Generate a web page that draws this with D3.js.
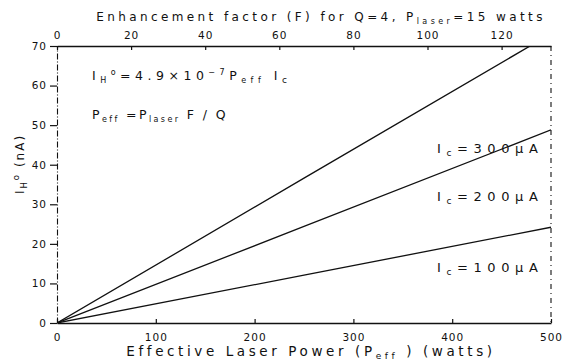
<!DOCTYPE html>
<html>
<head>
<meta charset="utf-8">
<script src="https://cdn.jsdelivr.net/npm/d3@7"></script>
<style>
  body { margin: 0; background: #fff; }
  svg text { font-family: "DejaVu Sans", sans-serif; fill: #111; }
</style>
</head>
<body>
<div id="app"></div>
<script>
// values
const peff = [0, 250, 500];
const ic300 = [0, 36.6, 73.1];
const ic200 = [0, 24.4, 48.8];
const ic100 = [0, 12.1, 24.2];
const seriesLabels = ["300", "200", "100"];
const xTicks = [0, 100, 200, 300, 400, 500];
const yTicks = [0, 10, 20, 30, 40, 50, 60, 70];
const fTicks = [0, 20, 40, 60, 80, 100, 120];

const w = 585, h = 362;
const m = {left: 57, right: 34, top: 46, bottom: 39};

const svg = d3.select("#app").append("svg")
    .attr("width", w).attr("height", h);

const x = d3.scaleLinear().domain([0, 500]).range([m.left, w - m.right]);
const y = d3.scaleLinear().domain([0, 70]).range([h - m.bottom, m.top]);
// F = Peff * Q / Plaser = Peff * 4 / 15
const xF = d3.scaleLinear().domain([0, 500 * 4 / 15]).range([m.left, w - m.right]);

svg.append("defs").append("clipPath").attr("id", "clip")
    .append("rect")
    .attr("x", m.left).attr("y", m.top)
    .attr("width", w - m.left - m.right).attr("height", h - m.top - m.bottom);

// bottom axis
const gx = svg.append("g")
    .attr("transform", `translate(0,${h - m.bottom})`)
    .call(d3.axisBottom(x).tickValues(xTicks).tickSize(-4).tickPadding(11).tickSizeOuter(0));

// top axis
const gt = svg.append("g")
    .attr("transform", `translate(0,${m.top})`)
    .call(d3.axisTop(xF).tickValues(fTicks).tickSize(-4).tickPadding(7).tickSizeOuter(0));

// left axis
const gy = svg.append("g")
    .attr("transform", `translate(${m.left},0)`)
    .call(d3.axisLeft(y).tickValues(yTicks).tickSize(7).tickPadding(3).tickSizeOuter(0));

[gx, gt, gy].forEach(g => {
  g.selectAll("text").attr("font-size", 10.5).attr("font-family", "DejaVu Sans, sans-serif")
    .attr("letter-spacing", 1).attr("fill", "#111");
  g.selectAll("line").attr("stroke", "#111").attr("stroke-width", 1.2);
});
gx.select(".domain").attr("stroke", "#111").attr("stroke-width", 1.4);
gt.select(".domain").attr("stroke", "#111").attr("stroke-width", 1.4);
gy.select(".domain").attr("stroke", "#111").attr("stroke-width", 1.1)
    .attr("stroke-dasharray", "6,2,1,2");

// right border, dashed
svg.append("line")
    .attr("x1", x(500)).attr("x2", x(500))
    .attr("y1", y(70)).attr("y2", y(0))
    .attr("stroke", "#111").attr("stroke-width", 1.1)
    .attr("stroke-dasharray", "5,4,1,4");

// lines
const line = d3.line().x((d, i) => x(peff[i])).y(d => y(d));
const plot = svg.append("g").attr("clip-path", "url(#clip)");
[ic300, ic200, ic100].forEach(s => {
  plot.append("path").datum(s)
      .attr("d", line)
      .attr("fill", "none")
      .attr("stroke", "#111")
      .attr("stroke-width", 1.3);
});

// series labels
const labPos = [[437, 153], [437, 201], [437, 272]];
seriesLabels.forEach((v, i) => {
  const t = svg.append("text")
      .attr("x", labPos[i][0]).attr("y", labPos[i][1])
      .attr("font-size", 13).attr("letter-spacing", 5.6);
  t.append("tspan").text("I");
  t.append("tspan").attr("font-size", 9).attr("dy", 3).text("c");
  t.append("tspan").attr("dy", -3).text(`=${v}\u03bcA`);
});

// formula annotations
const f1 = svg.append("text").attr("x", 92).attr("y", 80)
    .attr("font-size", 12.5).attr("letter-spacing", 4.5);
f1.append("tspan").text("I");
f1.append("tspan").attr("font-size", 8).attr("dy", 3).text("H");
f1.append("tspan").attr("font-size", 8).attr("dy", -8).text("o");
f1.append("tspan").attr("dy", 5).text("=4.9\u00d710");
f1.append("tspan").attr("font-size", 8).attr("dy", -5).text("\u22127");
f1.append("tspan").attr("dy", 5).text("P");
f1.append("tspan").attr("font-size", 8).attr("dy", 3).text("eff");
f1.append("tspan").attr("dy", -3).text(" I");
f1.append("tspan").attr("font-size", 9).attr("dy", 3).text("c");

const f2 = svg.append("text").attr("x", 92).attr("y", 119)
    .attr("font-size", 12.5).attr("letter-spacing", 2.4);
f2.append("tspan").text("P");
f2.append("tspan").attr("font-size", 8).attr("dy", 3).text("eff");
f2.append("tspan").attr("dy", -3).text(" =P");
f2.append("tspan").attr("font-size", 8).attr("dy", 3).text("laser");
f2.append("tspan").attr("dy", -3).text(" F / Q");

// top title
const tt = svg.append("text").attr("x", 321).attr("y", 21)
    .attr("text-anchor", "middle")
    .attr("font-size", 12).attr("letter-spacing", 3.4);
tt.append("tspan").text("Enhancement factor (F) for Q=4, P");
tt.append("tspan").attr("font-size", 8).attr("dy", 3).text("laser");
tt.append("tspan").attr("dy", -3).text("=15 watts");

// x label
const xl = svg.append("text").attr("x", 311).attr("y", 356)
    .attr("text-anchor", "middle")
    .attr("font-size", 13.5).attr("letter-spacing", 3.6);
xl.append("tspan").text("Effective Laser Power (P");
xl.append("tspan").attr("font-size", 9).attr("dy", 3).text("eff");
xl.append("tspan").attr("dy", -3).text(" ) (watts)");

// y label
const yl = svg.append("text")
    .attr("transform", "translate(24,164) rotate(-90)")
    .attr("text-anchor", "middle")
    .attr("font-size", 12).attr("letter-spacing", 2);
yl.append("tspan").text("I");
yl.append("tspan").attr("font-size", 8.5).attr("dy", 3).text("H");
yl.append("tspan").attr("font-size", 8.5).attr("dy", -8).text("o");
yl.append("tspan").attr("dy", 5).text(" (nA)");
</script>
</body>
</html>
